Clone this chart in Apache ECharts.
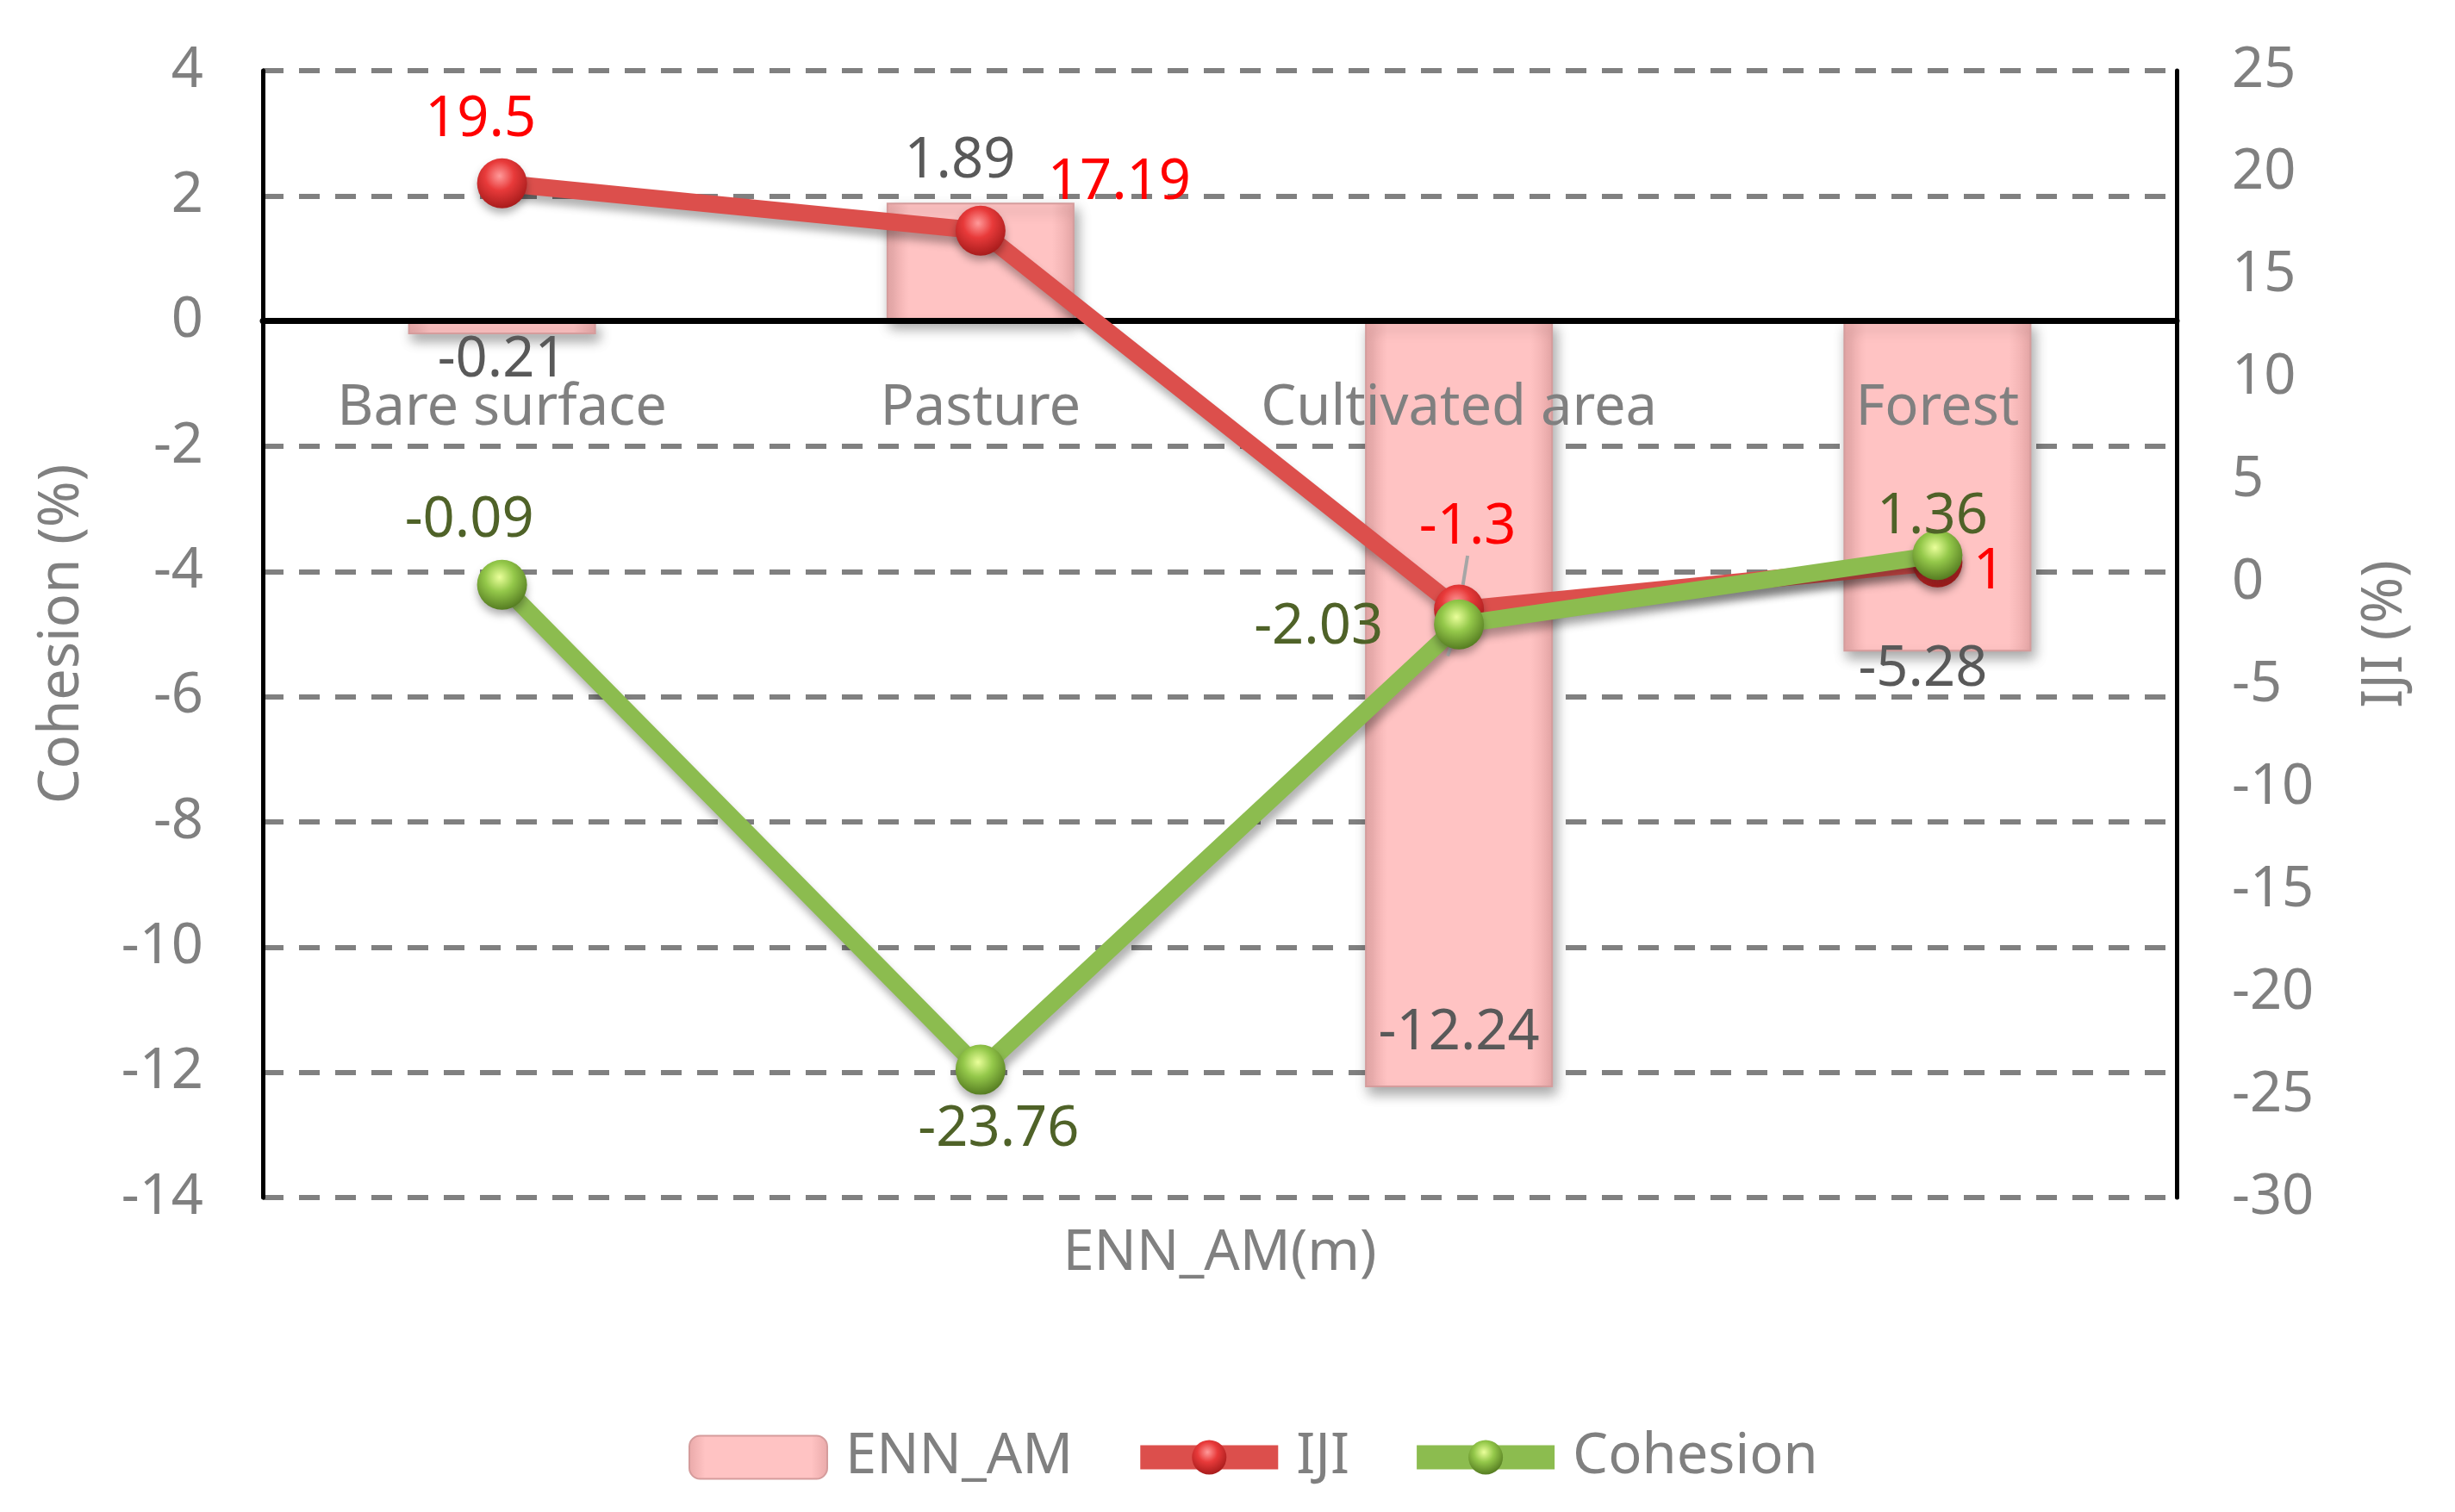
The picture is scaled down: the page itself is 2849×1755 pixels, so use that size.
<!DOCTYPE html>
<html><head><meta charset="utf-8">
<script src="https://cdn.jsdelivr.net/npm/echarts@6/dist/echarts.min.js"></script>
<style>html,body{margin:0;padding:0;background:#fff}#c{width:2849px;height:1755px}</style>
</head><body><div id="c"></div>
<script>
const categories = ['Bare surface', 'Pasture', 'Cultivated area', 'Forest'];
const ennAM = [-0.21, 1.89, -12.24, -5.28];
const iji = [19.5, 17.19, -1.3, 1];
const cohesion = [-0.09, -23.76, -2.03, 1.36];
const leftTicks = {min: -14, max: 4, interval: 2};
const rightTicks = {min: -30, max: 25, interval: 5};

// label offsets (px) relative to mark centre
const ennOff = [[0, 38], [-24, -117], [0, 382], [-17, 213]];
const ijiOff = [[-25, -73], [161, -55], [10, -95], [60, 12]];
const cohOff = [[-38, -74], [21, 70], [-163, 4], [-6, -44]];
const ennLeader = [false, true, false, false];
const ijiLeader = [false, false, true, false];
const cohLeader = [false, false, true, false];

const FONT = 'Noto Sans';
const FS = 65;
const GRID = {left: 305, right: 323, top: 82, bottom: 365};
const plotH = 1755 - GRID.top - GRID.bottom;
const zeroOffset = plotH * leftTicks.max / (leftTicks.max - leftTicks.min);

const chart = echarts.init(document.getElementById('c'));

const barGrad = {type: 'linear', x: 0, y: 0, x2: 1, y2: 0, colorStops: [
  {offset: 0, color: '#e9a9a9'}, {offset: 0.12, color: '#ffc3c3'},
  {offset: 0.88, color: '#ffc3c3'}, {offset: 1, color: '#e9a9a9'}]};
const redBall = {type: 'radial', x: 0.45, y: 0.35, r: 0.65, colorStops: [
  {offset: 0, color: '#ff9a9a'}, {offset: 0.45, color: '#e83a3a'}, {offset: 1, color: '#a81c1c'}]};
const greenBall = {type: 'radial', x: 0.45, y: 0.35, r: 0.65, colorStops: [
  {offset: 0, color: '#eaff9a'}, {offset: 0.45, color: '#94c84a'}, {offset: 1, color: '#567d22'}]};

function lbl(vals, offs, leaders) {
  return vals.map((v, i) => {
    const d = {value: v, label: {offset: offs[i]}};
    if (leaders[i]) d.labelLine = {show: true, lineStyle: {color: '#a6a6a6', width: 4}};
    return d;
  });
}

chart.setOption({
  backgroundColor: '#fff',
  animation: false,
  textStyle: {fontFamily: FONT},
  grid: Object.assign({containLabel: false}, GRID),
  legend: {
    bottom: 1755 - 1704 - 25, left: 794, itemWidth: 160, itemHeight: 50, itemGap: 64,
    textStyle: {color: '#808080', fontSize: FS, fontFamily: FONT, padding: [0, 0, 0, 16]},
    data: [
      {name: 'ENN_AM'},
      {name: 'IJI', lineStyle: {width: 28, color: '#dc4f4c'}},
      {name: 'Cohesion', lineStyle: {width: 28, color: '#8cbc4f'}}
    ]
  },
  xAxis: [{
    type: 'category', data: categories, z: 4,
    axisLine: {onZero: true, lineStyle: {color: '#000', width: 7}},
    axisTick: {show: false},
    axisLabel: {show: false},
    splitLine: {show: false}
  }, {
    type: 'category', data: categories, position: 'bottom',
    axisLine: {show: false, onZero: false}, axisTick: {show: false}, axisLabel: {show: false},
    splitLine: {show: false},
    name: 'ENN_AM(m)', nameLocation: 'middle', nameGap: 33,
    nameTextStyle: {color: '#808080', fontSize: FS, fontFamily: FONT}
  }, {
    type: 'category', data: categories, position: 'top', offset: -zeroOffset, z: 5,
    axisLine: {show: false, onZero: false}, axisTick: {show: false},
    axisLabel: {inside: true, color: '#808080', fontSize: FS, fontFamily: FONT, margin: 69, interval: 0},
    splitLine: {show: false}
  }],
  yAxis: [{
    type: 'value', min: leftTicks.min, max: leftTicks.max, interval: leftTicks.interval,
    axisLine: {show: true, lineStyle: {color: '#000', width: 5}},
    axisTick: {show: false},
    axisLabel: {color: '#808080', fontSize: FS, fontFamily: FONT, margin: 69},
    splitLine: {show: true, lineStyle: {color: '#808080', width: 6, type: [24, 18]}},
    name: 'Cohesion (%)', nameLocation: 'middle', nameRotate: 90, nameGap: 200,
    nameTextStyle: {color: '#808080', fontSize: FS, fontFamily: FONT}
  }, {
    type: 'value', min: rightTicks.min, max: rightTicks.max, interval: rightTicks.interval,
    position: 'right',
    axisLine: {show: true, lineStyle: {color: '#000', width: 5}},
    axisTick: {show: false},
    axisLabel: {color: '#808080', fontSize: FS, fontFamily: FONT, margin: 64, align: 'left'},
    splitLine: {show: false},
    name: 'IJI (%)', nameLocation: 'middle', nameRotate: 90, nameGap: 210,
    nameTextStyle: {color: '#808080', fontSize: FS, fontFamily: FONT}
  }],
  series: [{
    name: 'ENN_AM', type: 'bar', yAxisIndex: 0, barWidth: 218, z: 2,
    data: lbl(ennAM, ennOff, ennLeader),
    itemStyle: {color: barGrad, borderColor: '#d59c9c', borderWidth: 2,
      shadowColor: 'rgba(0,0,0,0.35)', shadowBlur: 14, shadowOffsetX: 4, shadowOffsetY: 8},
    label: {show: true, position: 'inside', color: '#595959', fontSize: FS, fontFamily: FONT}
  }, {
    name: 'IJI', type: 'line', yAxisIndex: 1, z: 6,
    data: lbl(iji, ijiOff, ijiLeader),
    symbol: 'circle', symbolSize: 58,
    lineStyle: {color: '#dc4f4c', width: 20, shadowColor: 'rgba(0,0,0,0.3)', shadowBlur: 10, shadowOffsetX: 3, shadowOffsetY: 9},
    itemStyle: {color: redBall, shadowColor: 'rgba(0,0,0,0.3)', shadowBlur: 10, shadowOffsetY: 6},
    label: {show: true, position: 'inside', color: '#ff0000', fontSize: FS, fontFamily: FONT}
  }, {
    name: 'Cohesion', type: 'line', yAxisIndex: 1, z: 7,
    data: lbl(cohesion, cohOff, cohLeader),
    symbol: 'circle', symbolSize: 58,
    lineStyle: {color: '#8cbc4f', width: 20, shadowColor: 'rgba(0,0,0,0.3)', shadowBlur: 10, shadowOffsetX: 3, shadowOffsetY: 9},
    itemStyle: {color: greenBall, shadowColor: 'rgba(0,0,0,0.3)', shadowBlur: 10, shadowOffsetY: 6},
    label: {show: true, position: 'inside', color: '#4f6228', fontSize: FS, fontFamily: FONT}
  }]
});
</script></body></html>
